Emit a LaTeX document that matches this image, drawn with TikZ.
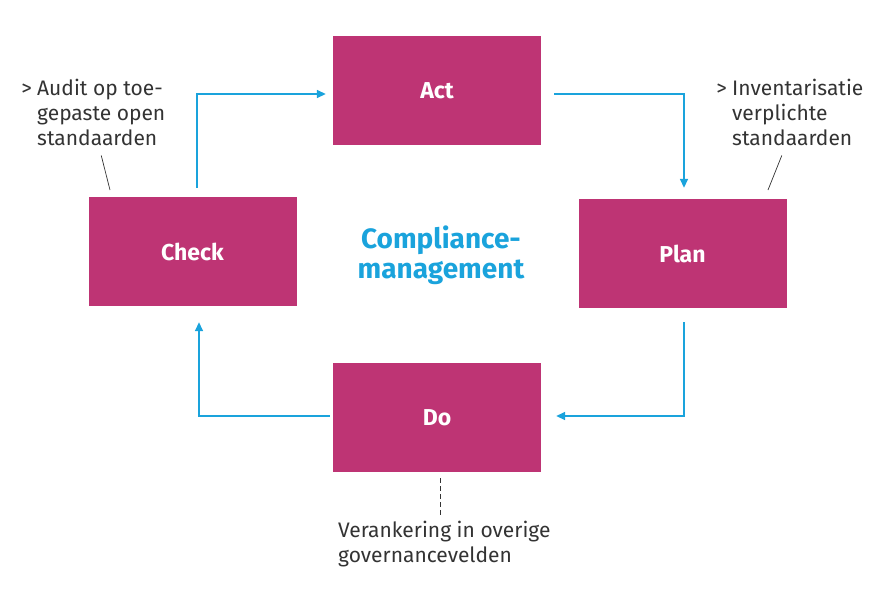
\documentclass[tikz,border=0pt]{standalone}
\usepackage{fontspec}
\setmainfont{Fira Sans}
\usepackage{xcolor}
\usetikzlibrary{arrows.meta,positioning}

\definecolor{ruby}{HTML}{BE3474}
\definecolor{flowblue}{HTML}{1AA3DC}
\definecolor{inkgray}{HTML}{333333}

\begin{document}
\begin{tikzpicture}[x=1pt,y=-1pt,
    phase/.style={fill=ruby, minimum width=208pt, minimum height=109pt, inner sep=0pt,
      text=white, font=\fontsize{23}{27}\selectfont\bfseries},
    flow/.style={flowblue, line width=1.6pt, -{Triangle[length=9pt,width=8pt]}},
    note/.style={align=left, inner sep=0pt, text=inkgray, font=\fontsize{21}{25}\selectfont},
    pointer/.style={inkgray, line width=0.7pt}]
        \useasboundingbox (0,0) rectangle (883,592);

        % PDCA boxes
        \node[phase] (Act) at (437,90.5) {Act};
        \node[phase] (Check) at (192.5,251.5) {Check};
        \node[phase] (Plan) at (682.5,253.5) {Plan};
        \node[phase] (Do) at (437,417.5) {Do};

        % Centre title
        \node[align=center, text=flowblue, font=\fontsize{28}{30}\selectfont\bfseries] (title) at (441,255) {Compliance-\\management};

        % Cycle arrows
        \draw[flow] ([xshift=4.5pt,yshift=9pt]Check.north) |- ([xshift=-7pt,yshift=-3.5pt]Act.west);
        \draw[flow] ([xshift=13pt,yshift=-3.5pt]Act.east) -| ([xshift=1.5pt,yshift=11pt]Plan.north);
        \draw[flow] ([xshift=1.5pt,yshift=-14pt]Plan.south) |- ([xshift=15pt,yshift=1.5pt]Do.east);
        \draw[flow] ([xshift=-3pt,yshift=1.5pt]Do.west) -| ([xshift=6.5pt,yshift=-16pt]Check.south);

        % Notes (base = last line)
        \node[note, anchor=base west] (audit) at (37,145) {Audit op toe-\\gepaste open\\standaarden};
        \node[note, anchor=base east] (auditMark) at ([xshift=-5pt,yshift=50pt]audit.base west) {>};
        \node[note, anchor=base west] (inventory) at (732,145) {Inventarisatie\\verplichte\\standaarden};
        \node[note, anchor=base east] (inventoryMark) at ([xshift=-5pt,yshift=50pt]inventory.base west) {>};
        \node[note, anchor=base west] (anchoring) at (338,562) {Verankering in overige\\governancevelden};

        % Pointers
        \coordinate (auditFoot) at (110,190);
        \coordinate (inventoryFoot) at (768,190);
        \coordinate (anchoringTop) at (440,515);
        \draw[pointer] ([yshift=-10pt]audit.south) -- (auditFoot);
        \draw[pointer] ([xshift=-16pt,yshift=-10pt]inventory.south) -- (inventoryFoot);
        \draw[pointer, dash pattern=on 5pt off 3pt] ([xshift=3pt,yshift=-6pt]Do.south) -- (anchoringTop);
\end{tikzpicture}
\end{document}
